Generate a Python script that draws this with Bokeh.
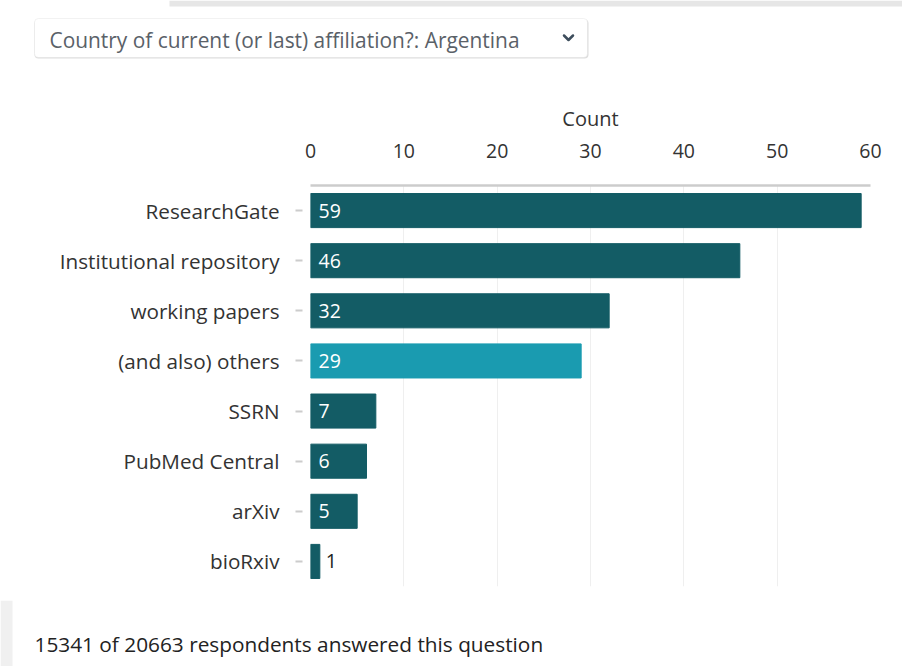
from bokeh.plotting import figure
from bokeh.models import FactorRange, Range1d, BoxAnnotation, ColumnDataSource
from bokeh.core.properties import value
from bokeh.embed import file_html
from bokeh.resources import INLINE

# ---- data ----
categories = ["ResearchGate", "Institutional repository", "working papers",
              "(and also) others", "SSRN", "PubMed Central", "arXiv", "bioRxiv"]
counts = [59, 46, 32, 29, 7, 6, 5, 1]
highlight = "(and also) others"
x_ticks = [0, 10, 20, 30, 40, 50, 60]
dropdown_text = "Country of current (or last) affiliation?: Argentina"
footer_text = "15341 of 20663 respondents answered this question"

DARK = "#135c65"
LIGHT = "#1a9bb0"
FONT = "Open Sans"
W = 902

colors = [LIGHT if c == highlight else DARK for c in categories]
inside = [v >= 3 for v in counts]
lab_x = [0 if ins else v for v, ins in zip(counts, inside)]
lab_off = [8 if ins else 6 for ins in inside]
lab_col = ["white" if ins else "#222222" for ins in inside]

src = ColumnDataSource(dict(cat=categories, val=counts, color=colors,
                            lx=lab_x, loff=lab_off, lcol=lab_col,
                            txt=[str(v) for v in counts]))


def canvas(h):
    f = figure(width=W, height=h, output_backend="svg", toolbar_location=None,
               x_range=Range1d(0, W), y_range=Range1d(h, 0),
               x_axis_type=None, y_axis_type=None, min_border=0)
    f.outline_line_color = None
    f.grid.grid_line_color = None
    f.background_fill_color = "white"
    f.border_fill_color = "white"
    return f


# ---- top: dropdown ----
TOP_H = 80
top = canvas(TOP_H)
top.add_layout(BoxAnnotation(left=169, right=W, top=0, bottom=6, level="underlay",
                             fill_color="#e6e6e6", fill_alpha=1, line_color=None))
top.add_layout(BoxAnnotation(left=34, right=588, top=19, bottom=58, level="underlay",
                             fill_color="#dddddd", fill_alpha=1, line_color=None,
                             border_radius=4))
top.add_layout(BoxAnnotation(left=34, right=587, top=18, bottom=57, level="underlay",
                             fill_color="white", fill_alpha=1, line_color="#d4d4d4",
                             line_width=1, border_radius=4))
top.text(x=[49], y=[39], text=[dropdown_text], text_font=value(FONT),
         text_font_size="20.9px", text_color="#5a6168", text_baseline="middle",
         text_align="left")
top.line(x=[563.5, 568, 572.5], y=[35, 39.5, 35], line_width=2.5,
         line_color="#3d4d5c", line_cap="round", line_join="round")

# ---- main chart ----
MAIN_H = 520
FL, FR = 310, 870
p = figure(width=W, height=MAIN_H, output_backend="svg", toolbar_location=None,
           x_range=(0, 60), y_range=FactorRange(factors=list(reversed(categories))),
           x_axis_location="above", min_border_left=FL, min_border_right=W - FR,
           min_border_top=105, min_border_bottom=14)
p.outline_line_color = None
p.background_fill_color = "white"
p.border_fill_color = "white"

p.hbar(y="cat", left=0, right="val", height=0.68, color="color", source=src)
p.text(x="lx", y="cat", text="txt", x_offset="loff", text_color="lcol",
       text_baseline="middle", text_align="left", text_font=value(FONT),
       text_font_size="19.5px", source=src)

xa = p.xaxis[0]
xa.ticker = x_ticks
xa.axis_label = "Count"
xa.axis_label_text_font = FONT
xa.axis_label_text_font_style = "normal"
xa.axis_label_text_font_size = "20px"
xa.axis_label_text_color = "#333333"
xa.axis_label_standoff = 9
xa.major_label_text_font = FONT
xa.major_label_text_font_size = "19.5px"
xa.major_label_text_color = "#333333"
xa.major_label_standoff = 22
xa.axis_line_color = "#cccccc"
xa.axis_line_width = 2.5
xa.major_tick_line_color = None
xa.minor_tick_line_color = None

ya = p.yaxis[0]
ya.axis_line_color = None
ya.major_tick_line_color = "#cccccc"
ya.major_tick_line_width = 2
ya.major_tick_in = -8
ya.major_tick_out = 15
ya.major_label_standoff = 16
ya.major_label_text_font = FONT
ya.major_label_text_font_size = "20.7px"
ya.major_label_text_color = "#333333"

p.xgrid.grid_line_color = "#efefef"
p.xgrid.ticker = x_ticks
p.ygrid.grid_line_color = None

# ---- footer ----
FOOT_H = 66
foot = canvas(FOOT_H)
foot.add_layout(BoxAnnotation(left=0, right=12, top=0, bottom=FOOT_H, level="underlay",
                              fill_color="#f0f0f0", fill_alpha=1, line_color=None))
foot.text(x=[34], y=[43], text=[footer_text], text_font=value(FONT),
          text_font_size="20.8px", text_color="#222222", text_baseline="middle",
          text_align="left")

open("out.html", "w").write(file_html([top, p, foot], INLINE))
